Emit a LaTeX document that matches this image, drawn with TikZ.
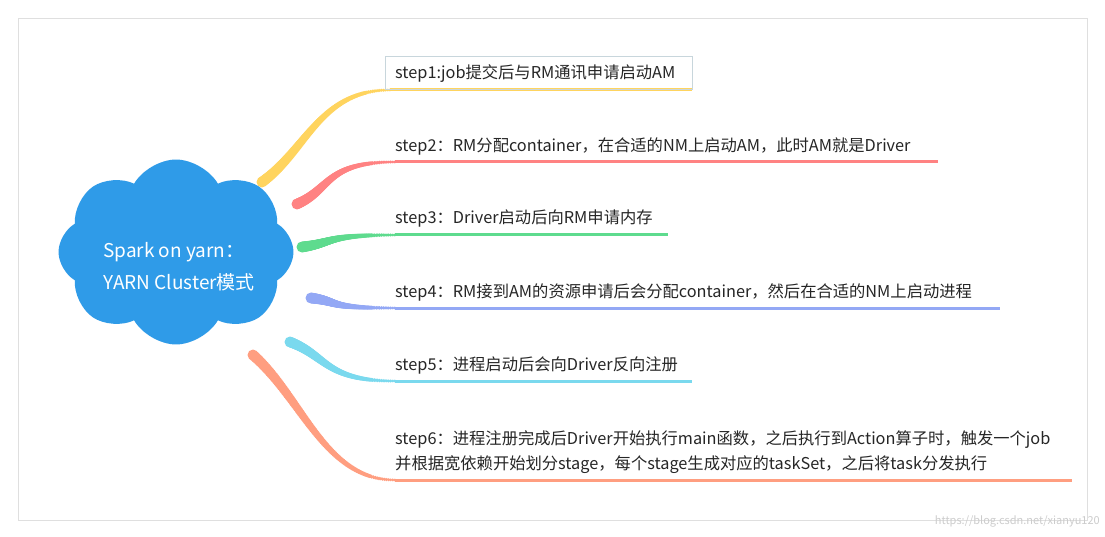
\documentclass[tikz,border=0pt]{standalone}
\usepackage{fontspec}
\setmainfont{Noto Sans CJK SC}
\usetikzlibrary{shapes.symbols,shadows,calc}
\definecolor{cy}{HTML}{FFD45E}
\definecolor{cr}{HTML}{FF8282}
\definecolor{cg}{HTML}{5EDB8E}
\definecolor{cb}{HTML}{93A8F5}
\definecolor{cc}{HTML}{7AD9EE}
\definecolor{co}{HTML}{FF9E80}
\definecolor{cloudblue}{HTML}{2F9BE8}
\tikzset{lbl/.style={anchor=base west,font=\fontsize{16.3}{20}\selectfont,text=black!85,inner sep=0pt}}
\newcommand\branch[6]{% color, Sx,Sy, Ex,Ey, Lx
  \coordinate (s) at (#2,#3); \coordinate (e) at (#4,#5); \coordinate (l) at (#6,#5);
  \foreach \t in {0,0.01,...,1.001}{
    \path (s) .. controls ($(s)!0.35!(e)$) and (#4-70,#5) .. (e) coordinate[pos=\t] (p);
    \pgfmathsetmacro\r{5.5-4*\t}
    \fill[#1] (p) circle (\r pt);}
  \draw[#1,line width=3pt] (e) -- (l);}
\begin{document}
\begin{tikzpicture}[x=1pt,y=-1pt]
\useasboundingbox (0,0) rectangle (1105,537);
\fill[white] (0,0) rectangle (1105,537);
\fill[white,draw=gray!25,drop shadow={opacity=0.3,shadow xshift=0pt,shadow yshift=-1pt}] (18,18) rectangle (1087,520);
\branch{cy}{262}{182}{390}{90}{692}
\branch{cr}{297}{204}{395}{162}{938}
\branch{cg}{302}{247}{395}{235}{668}
\branch{cb}{311}{298}{395}{308}{1000}
\branch{cc}{290}{342}{395}{381}{692}
\branch{co}{253}{355}{395}{480}{1072}
\draw[cyan!25!gray!40,line width=0.8pt] (385,56) rectangle (692,89);
\node[cloud,cloud puffs=8,cloud puff arc=120,aspect=1.3,fill=cloudblue,minimum width=235pt,minimum height=185pt] (cl) at (176,252) {};
\node[lbl,text=white,font=\fontsize{19}{22}\selectfont] (t0) at (103,258) {Spark on yarn：};
\node[lbl,text=white,font=\fontsize{19}{22}\selectfont] (t0b) at (103,290) {YARN Cluster模式};
\node[lbl] (t1) at (395,79) {step1:job提交后与RM通讯申请启动AM};
\node[lbl] (t2) at (395,152) {step2：RM分配container，在合适的NM上启动AM，此时AM就是Driver};
\node[lbl] (t3) at (395,224) {step3：Driver启动后向RM申请内存};
\node[lbl] (t4) at (395,298) {step4：RM接到AM的资源申请后会分配container，然后在合适的NM上启动进程};
\node[lbl] (t5) at (395,370) {step5：进程启动后会向Driver反向注册};
\node[lbl] (t6) at (395,444) {step6：进程注册完成后Driver开始执行main函数，之后执行到Action算子时，触发一个job};
\node[lbl] (t6b) at (395,469) {并根据宽依赖开始划分stage，每个stage生成对应的taskSet，之后将task分发执行};
\node[anchor=base east,font=\fontsize{11}{13}\selectfont,text=gray!40,inner sep=0pt] (wm) at (1100,524) {https://blog.csdn.net/xianyu120};
\end{tikzpicture}
\end{document}
